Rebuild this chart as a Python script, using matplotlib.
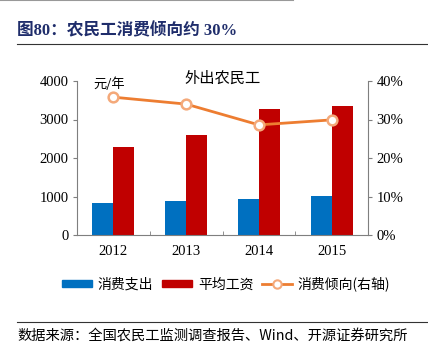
import numpy as np
import matplotlib
matplotlib.use('Agg')
import matplotlib.pyplot as plt
from matplotlib.lines import Line2D
from matplotlib.patches import Patch

plt.rcParams['font.family'] = ['Liberation Serif', 'Noto Sans CJK SC']

# 数据
years = ['2012', '2013', '2014', '2015']
spend = [823, 883, 935, 1005]          # 消费支出
wage = [2280, 2590, 3273, 3343]        # 平均工资
ratio = [35.8, 34.0, 28.6, 29.9]       # 消费倾向(右轴) %

blue = '#0070C0'
red = '#C00000'
orange = '#ED7D31'
grey = '#7F7F7F'
cjk = ['Noto Sans CJK SC']

fig = plt.figure(figsize=(4.28, 3.59), dpi=100)

# 顶部细线、标题及分隔线
fig.add_artist(Line2D([0, 293 / 428], [0.999, 0.999], color='#999999', lw=1.5))
fig.text(17 / 428, 1 - 31 / 359, '图80：农民工消费倾向约 30%', color='#1F2D6B',
         fontsize=12, fontweight='bold', va='center', ha='left')
fig.add_artist(Line2D([17 / 428, 1], [1 - 44 / 359] * 2, color='#333333', lw=0.8))

ax = fig.add_axes([77 / 428, 1 - 235 / 359, 291 / 428, 154 / 359])
x = np.arange(len(years))
w = 0.29
ax.bar(x - w / 2, spend, w, color=blue, label='消费支出')
ax.bar(x + w / 2, wage, w, color=red, label='平均工资')
ax.set_xlim(-0.5, 3.5)
ax.set_ylim(0, 4000)
ax.set_yticks([0, 1000, 2000, 3000, 4000])
ax.set_xticks(x)
ax.set_xticklabels(years)
ax.set_xticks(np.arange(-0.5, 4, 1), minor=True)
ax.tick_params(axis='x', which='major', length=0, pad=7, labelsize=10.5)
ax.tick_params(axis='x', which='minor', length=3, direction='in', color=grey)
ax.tick_params(axis='y', length=3, direction='out', color=grey, labelsize=10.5, pad=3)
for s in ['top', 'right']:
    ax.spines[s].set_visible(False)
for s in ['left', 'bottom']:
    ax.spines[s].set_color(grey)

ax2 = ax.twinx()
ax2.plot(x, ratio, color=orange, lw=2, marker='o', markersize=7,
         markerfacecolor='white', markeredgecolor='#F4A97A', markeredgewidth=1.8)
ax2.set_ylim(0, 40)
ax2.set_yticks([0, 10, 20, 30, 40])
ax2.set_yticklabels(['0%', '10%', '20%', '30%', '40%'])
ax2.tick_params(axis='y', length=3, direction='out', color=grey, labelsize=10.5, pad=3)
for s in ['top', 'left', 'bottom']:
    ax2.spines[s].set_visible(False)
ax2.spines['right'].set_color(grey)

ax.text(0.055, 0.98, '元/年', transform=ax.transAxes, fontsize=9.5,
        family=cjk, va='center', ha='left')
ax.text(0.5, 1.02, '外出农民工', transform=ax.transAxes, fontsize=11,
        family=cjk, va='center', ha='center')

handles = [Patch(color=blue), Patch(color=red),
           Line2D([], [], color=orange, lw=2, marker='o', markersize=6,
                  markerfacecolor='white', markeredgecolor='#F4A97A', markeredgewidth=1.5)]
labels = ['消费支出', '平均工资', '消费倾向(右轴)']
fig.legend(handles, labels, loc='center', bbox_to_anchor=(226 / 428, 1 - 284 / 359),
           ncol=3, frameon=False, handlelength=2.2, handleheight=0.45,
           columnspacing=0.6, handletextpad=0.4, prop={'family': cjk, 'size': 10})

fig.add_artist(Line2D([17 / 428, 1], [1 - 322 / 359] * 2, color='#333333', lw=0.8))
fig.text(17 / 428, 1 - 336 / 359, '数据来源：全国农民工监测调查报告、Wind、开源证券研究所',
         fontsize=10.3, family=cjk, va='center', ha='left')

fig.savefig('out.png', dpi=100)
